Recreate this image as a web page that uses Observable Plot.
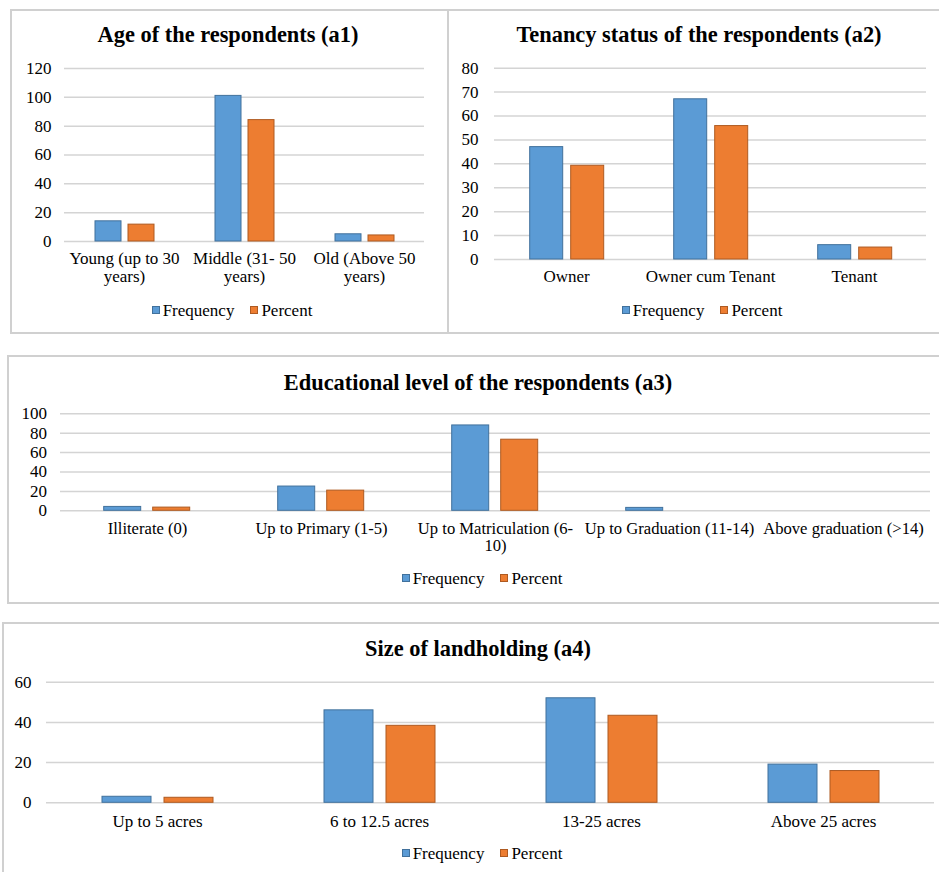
<!DOCTYPE html>
<html><head><meta charset="utf-8">
<script src="https://cdn.jsdelivr.net/npm/d3@7"></script>
<script src="https://cdn.jsdelivr.net/npm/@observablehq/plot@0.6"></script>
<style>
html,body{margin:0;padding:0;background:#fff;width:939px;height:872px;overflow:hidden;font-family:"Liberation Serif","Tinos","DejaVu Serif","Noto Serif","Times New Roman",Times,serif;color:#000;}
.box{position:absolute;box-sizing:border-box;border:2px solid #d0d0d0;}
.title{position:absolute;width:600px;text-align:center;font-weight:bold;font-size:22.4px;line-height:22.4px;white-space:nowrap;}
.legend{position:absolute;width:400px;height:17px;display:flex;justify-content:center;align-items:center;font-size:17px;line-height:17px;gap:16px;white-space:nowrap;}
.legend .sw{display:inline-block;width:8px;height:8px;margin-right:3px;box-sizing:border-box;}
.plot{position:absolute;}
</style></head><body>
<div id="root"></div>
<script>
// ---- data ----
const series = ["Frequency", "Percent"];

const ageCategories = ["Young (up to 30\nyears)", "Middle (31- 50\nyears)", "Old (Above 50\nyears)"];
const ageFrequency = [14, 101, 5];
const agePercent = [11.7, 84.2, 4.2];
const ageTicks = [0, 20, 40, 60, 80, 100, 120];

const tenancyCategories = ["Owner", "Owner cum Tenant", "Tenant"];
const tenancyFrequency = [47, 67, 6];
const tenancyPercent = [39.2, 55.8, 5.0];
const tenancyTicks = [0, 10, 20, 30, 40, 50, 60, 70, 80];

const eduCategories = ["Illiterate (0)", "Up to Primary (1-5)", "Up to Matriculation (6-\n10)", "Up to Graduation (11-14)", "Above graduation (>14)"];
const eduFrequency = [4, 25, 88, 3, 0];
const eduPercent = [3.3, 20.8, 73.3, null, 0];
const eduTicks = [0, 20, 40, 60, 80, 100];

const landCategories = ["Up to 5 acres", "6 to 12.5 acres", "13-25 acres", "Above 25 acres"];
const landFrequency = [3, 46, 52, 19];
const landPercent = [2.5, 38.3, 43.3, 15.8];
const landTicks = [0, 20, 40, 60];

const titles = ["Age of the respondents (a1)", "Tenancy status of the respondents (a2)", "Educational level of the respondents (a3)", "Size of landholding (a4)"];

// ---- layout / style ----
const fills = {Frequency: "#5b9bd5", Percent: "#ed7d31"};
const strokes = {Frequency: "#41719c", Percent: "#ae5a21"};
const fontFamily = '"Liberation Serif","Tinos","DejaVu Serif","Noto Serif","Times New Roman",Times,serif';
const titleSize = 22.4;

const panels = [
  {title: titles[0], cats: ageCategories, freq: ageFrequency, pct: agePercent, ticks: ageTicks,
   box: {left: 10, top: 9, width: 439, height: 325}, titleCx: 228, titleBase: 43,
   svg: {left: 11, top: 50, width: 437, height: 250, mL: 52, mR: 23, mT: 18, mB: 59, yPad: 13, xPad: 10, fs: 17},
   pi: 0.22, po: 0.885, legendCx: 232, legendCy: 310},
  {title: titles[1], cats: tenancyCategories, freq: tenancyFrequency, pct: tenancyPercent, ticks: tenancyTicks,
   box: {left: 447, top: 9, width: 500, height: 325}, titleCx: 699, titleBase: 43,
   svg: {left: 448, top: 50, width: 491, height: 250, mL: 45.3, mR: 11.7, mT: 17.7, mB: 41, yPad: 16, xPad: 10, fs: 17},
   pi: 0.205, po: 0.846, legendCx: 702, legendCy: 310},
  {title: titles[2], cats: eduCategories, freq: eduFrequency, pct: eduPercent, ticks: eduTicks,
   box: {left: 7, top: 355, width: 940, height: 249}, titleCx: 478, titleBase: 391,
   svg: {left: 8, top: 400, width: 931, height: 160, mL: 51.3, mR: 8, mT: 13.3, mB: 49.7, yPad: 13.6, xPad: 10.4, fs: 16.6},
   pi: 0.235, po: 0.871, legendCx: 482, legendCy: 578},
  {title: titles[3], cats: landCategories, freq: landFrequency, pct: landPercent, ticks: landTicks,
   box: {left: 2, top: 622, width: 945, height: 260}, titleCx: 478, titleBase: 656.7,
   svg: {left: 3, top: 665, width: 936, height: 175, mL: 42, mR: 5, mT: 16.7, mB: 37.7, yPad: 15, xPad: 11, fs: 17},
   pi: 0.211, po: 0.883, legendCx: 482, legendCy: 853}
];

const root = document.getElementById("root");

for (const p of panels) {
  const box = document.createElement("div");
  box.className = "box";
  Object.assign(box.style, {left: p.box.left + "px", top: p.box.top + "px", width: p.box.width + "px", height: p.box.height + "px"});
  root.appendChild(box);

  const t = document.createElement("div");
  t.className = "title";
  t.textContent = p.title;
  Object.assign(t.style, {left: (p.titleCx - 300) + "px", top: (p.titleBase - titleSize * 0.8375) + "px"});
  root.appendChild(t);

  const rows = p.cats.flatMap((c, i) => [
    {cat: c, series: "Frequency", value: p.freq[i]},
    {cat: c, series: "Percent", value: p.pct[i]}
  ]).filter(d => d.value != null && d.value > 0);

  // gridline rows per category so that every facet (even an empty one) is drawn
  const gridRows = p.cats.flatMap(c => p.ticks.map(v => ({cat: c, tick: v})));

  const s = p.svg;
  const chart = Plot.plot({
    width: s.width, height: s.height,
    marginLeft: s.mL, marginRight: s.mR, marginTop: s.mT, marginBottom: s.mB,
    style: {fontFamily, fontSize: "17px", color: "#000", background: "transparent", overflow: "visible"},
    fx: {domain: p.cats, paddingInner: 0, paddingOuter: 0, label: null},
    x: {domain: series, axis: null, paddingInner: p.pi, paddingOuter: p.po},
    y: {domain: [0, p.ticks[p.ticks.length - 1]], axis: "left", ticks: p.ticks, tickSize: 0, tickPadding: s.yPad, label: null},
    marks: [
      Plot.ruleY(gridRows, {fx: "cat", y: "tick", stroke: "#d4d4d4", strokeWidth: 1.5}),
      ...series.map(name => Plot.barY(rows.filter(d => d.series === name), {
        fx: "cat", x: "series", y: "value", fill: fills[name], stroke: strokes[name], strokeWidth: 1
      })),
      Plot.axisFx({anchor: "bottom", tickSize: 0, tickPadding: s.xPad, label: null, lineHeight: 1.06, fontSize: s.fs})
    ]
  });
  chart.classList.add("plot");
  Object.assign(chart.style, {position: "absolute", left: s.left + "px", top: s.top + "px"});
  root.appendChild(chart);

  const lg = document.createElement("div");
  lg.className = "legend";
  Object.assign(lg.style, {left: (p.legendCx - 200) + "px", top: (p.legendCy - 8.5) + "px"});
  for (const name of series) {
    const item = document.createElement("span");
    const sw = document.createElement("span");
    sw.className = "sw";
    sw.style.background = fills[name];
    sw.style.border = "1px solid " + strokes[name];
    item.appendChild(sw);
    item.appendChild(document.createTextNode(name));
    item.style.display = "inline-flex";
    item.style.alignItems = "center";
    lg.appendChild(item);
  }
  root.appendChild(lg);
}
</script>
</body></html>
